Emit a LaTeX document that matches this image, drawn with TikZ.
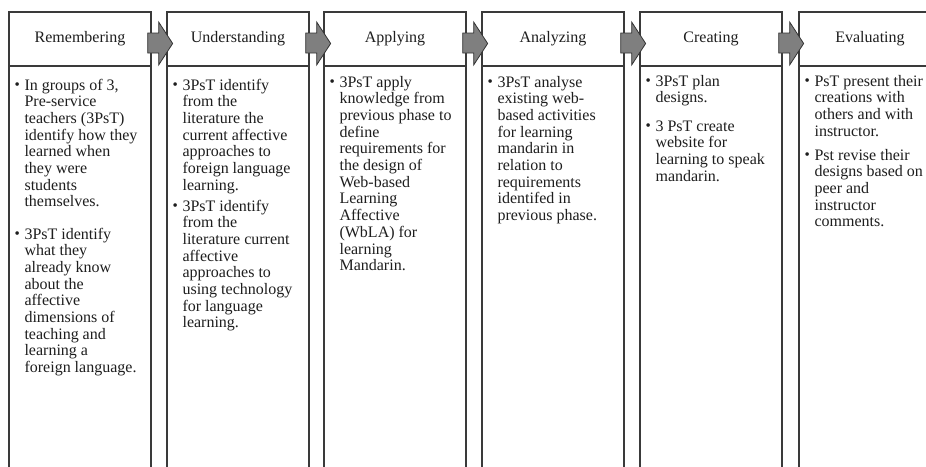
\documentclass[tikz,border=0pt]{standalone}
\usepackage{fontspec}
\setmainfont{Liberation Serif}
\usetikzlibrary{calc}
\definecolor{boxline}{HTML}{3A3A3A}
\definecolor{arrowfill}{HTML}{7F7F7F}
\definecolor{arrowline}{HTML}{333333}
\definecolor{txt}{HTML}{1E1E1E}
\newcommand{\bulmark}{\raisebox{0.5pt}{\fontsize{15}{15}\selectfont\char"2022}}
\newcommand{\bitem}[1]{\makebox[10pt][l]{\bulmark}\begin{tabular}[t]{@{}l@{}}#1\end{tabular}}
\begin{document}
\begin{tikzpicture}[x=1pt,y=-1pt,
  hdr/.style={draw=boxline,line width=1.3pt,fill=white,minimum width=142pt,minimum height=54pt,
    inner sep=0pt,text=txt,font=\fontsize{16}{18}\selectfont,text height=11pt,text depth=4pt},
  bodybox/.style={draw=boxline,line width=1.3pt,fill=white,minimum width=142pt,minimum height=430pt,
    inner sep=0pt,anchor=north},
  itemtxt/.style={anchor=base west,inner sep=0pt,text=txt,font=\fontsize{16}{16.7}\selectfont},
  blockarrow/.style={draw=arrowline,line width=0.8pt,fill=arrowfill,line join=miter}
]
\useasboundingbox (0,0) rectangle (926,466);
\clip (0,0) rectangle (926,466);
\fill[white] (0,0) rectangle (926,466);

% header nodes (positions)
\coordinate (c1) at (80,39);
\coordinate (c2) at (238,39);
\coordinate (c3) at (395,39);
\coordinate (c4) at (553,39);
\coordinate (c5) at (711,39);
\coordinate (c6) at (870,39);

% bodies
\foreach \i in {1,...,6} {
  \node[bodybox] (b\i) at ($(c\i)+(0,27)$) {};
}
% headers
\node[hdr] (h1) at (c1) {Remembering};
\node[hdr] (h2) at (c2) {Understanding};
\node[hdr] (h3) at (c3) {Applying};
\node[hdr] (h4) at (c4) {Analyzing};
\node[hdr] (h5) at (c5) {Creating};
\node[hdr] (h6) at (c6) {Evaluating};

% block arrows between headers
\foreach \i in {1,...,5} {
  \draw[blockarrow] ($(h\i.east)+(-4,-6)$) -- ++(11,0) -- ++(0,-11) -- ++(14,21.5)
     -- ++(-14,21.5) -- ++(0,-12) -- ++(-11,0) -- cycle;
}

% body texts
\node[itemtxt] (t1a) at ($(b1.north west)+(6,24)$) {\bitem{In groups of 3,\\Pre-service\\teachers (3PsT)\\identify how they\\learned when\\they were\\students\\themselves.}};
\node[itemtxt] (t1b) at ($(b1.north west)+(6,173)$) {\bitem{3PsT identify\\what they\\already know\\about the\\affective\\dimensions of\\teaching and\\learning a\\foreign language.}};

\node[itemtxt] (t2a) at ($(b2.north west)+(6,24)$) {\bitem{3PsT identify\\from the\\literature the\\current affective\\approaches to\\foreign language\\learning.}};
\node[itemtxt] (t2b) at ($(b2.north west)+(6,145)$) {\bitem{3PsT identify\\from the\\literature current\\affective\\approaches to\\using technology\\for language\\learning.}};

\node[itemtxt] (t3a) at ($(b3.north west)+(6,21)$) {\bitem{3PsT apply\\knowledge from\\previous phase to\\define\\requirements for\\the design of\\Web-based\\Learning\\Affective\\(WbLA) for\\learning\\Mandarin.}};

\node[itemtxt] (t4a) at ($(b4.north west)+(6,21)$) {\bitem{3PsT analyse\\existing web-\\based activities\\for learning\\mandarin in\\relation to\\requirements\\identifed in\\previous phase.}};

\node[itemtxt] (t5a) at ($(b5.north west)+(6,20)$) {\bitem{3PsT plan\\designs.}};
\node[itemtxt] (t5b) at ($(b5.north west)+(6,65)$) {\bitem{3 PsT create\\website for\\learning to speak\\mandarin.}};

\node[itemtxt] (t6a) at ($(b6.north west)+(6,20)$) {\bitem{PsT present their\\creations with\\others and with\\instructor.}};
\node[itemtxt] (t6b) at ($(b6.north west)+(6,94)$) {\bitem{Pst revise their\\designs based on\\peer and\\instructor\\comments.}};
\end{tikzpicture}
\end{document}
